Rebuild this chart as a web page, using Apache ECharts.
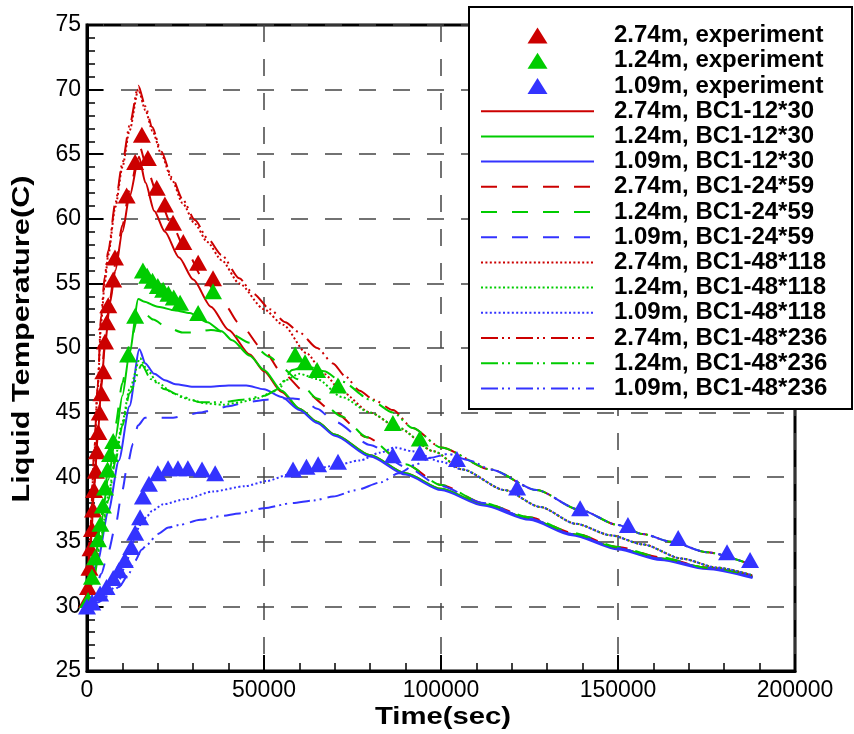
<!DOCTYPE html>
<html>
<head>
<meta charset="utf-8">
<script src="https://cdn.jsdelivr.net/npm/echarts@6/dist/echarts.min.js"></script>
<style>
html,body{margin:0;padding:0;background:#fff;}
#chart{width:854px;height:734px;}
</style>
</head>
<body>
<div id="chart"></div>
<script>
// ---------- data ----------
const xTickValues = [0, 50000, 100000, 150000, 200000];
const yTickValues = [25, 30, 35, 40, 45, 50, 55, 60, 65, 70, 75];

// experiment points [time, temperature]
const exp274 = [[0,30.5],[300,31.5],[700,33],[1000,34.5],[1400,36],[1700,37.5],[2000,39],[2500,40.5],[2800,42],[3200,43.5],[3600,45],[4100,46.5],[4600,48.2],[5100,50.5],[5600,52],[6000,53.3],[7400,55.3],[7900,57],[11200,61.8],[13600,64.4],[15500,66.5],[17200,64.7],[19700,62.4],[22000,61.1],[24300,59.7],[27200,58.2],[31400,56.6],[35600,55.4]];
const exp124 = [[300,30.5],[1400,32.3],[2300,33.8],[3100,35.2],[3800,36.4],[4500,37.8],[5100,39.2],[5800,40.6],[6500,41.8],[7400,42.8],[11600,49.5],[13600,52.5],[15800,56.0],[17000,55.6],[18500,55.2],[20000,54.8],[21500,54.5],[23000,54.2],[24500,53.9],[26300,53.5],[31400,52.7],[35600,54.4],[58800,49.5],[61600,48.9],[65000,48.3],[70900,47.1],[86400,44.2],[94000,43.0]];
const exp109 = [[0,30.0],[1500,30.3],[3700,31.0],[5500,31.5],[7400,32.2],[9000,32.8],[10700,33.6],[12500,34.6],[13600,35.7],[15000,36.9],[15800,38.5],[17500,39.5],[20000,40.3],[22900,40.7],[25700,40.7],[28500,40.7],[32500,40.6],[36200,40.3],[58200,40.6],[62000,40.8],[65300,41.0],[70900,41.2],[86400,41.7],[94000,41.9],[104500,41.4],[121500,39.2],[139300,37.6],[152800,36.3],[167000,35.3],[180800,34.2],[187300,33.6]];

// BC1-12*30
const r12x30 = [[0,30],[1000,34.5],[2000,39],[3000,43],[4000,46.8],[5000,50],[6500,53.5],[8000,56],[10000,59],[12000,61.7],[14700,64.8],[16500,62.8],[19000,60.6],[22000,59],[26000,57],[30000,55.3],[35000,53.2],[40000,51.4],[46000,49.5],[50000,48.2],[55000,46.6],[60000,45.3],[65000,44.3],[70000,43.3],[80000,41.7],[90000,40.3],[100000,39.1],[112000,37.9],[125000,36.8],[137000,35.6],[150000,34.5],[162000,33.7],[175000,33.0],[188000,32.3]];
const g12x30 = [[0,30],[2000,33.2],[4000,36.5],[6000,39.8],[8000,43],[10000,46.3],[12000,49.6],[14500,53.8],[16000,53.6],[20000,53.2],[25000,52.9],[29000,52.7],[34000,52.0],[38000,51.3],[41000,50.6],[46000,49.4],[50000,48.3],[55000,46.7],[60000,45.3],[65000,44.3],[70000,43.3],[80000,41.7],[90000,40.3],[100000,39.1],[112000,37.9],[125000,36.8],[137000,35.6],[150000,34.5],[162000,33.7],[175000,33.0],[188000,32.3]];
const b12x30 = [[0,30],[3000,33.5],[6000,37.3],[9000,41.3],[12000,45.5],[14800,49.9],[16500,48.8],[19000,48.0],[22000,47.5],[25000,47.2],[30000,47.0],[35000,47.0],[40000,47.1],[45000,47.1],[50000,46.8],[55000,46.2],[60000,45.2],[65000,44.2],[70000,43.2],[80000,41.6],[90000,40.2],[100000,39.0],[112000,37.8],[125000,36.7],[137000,35.5],[150000,34.4],[162000,33.6],[175000,32.9],[188000,32.2]];

// BC1-24*59
const r24x59 = [[0,30],[1000,35],[2000,39.5],[3000,43.5],[4000,47.3],[5000,50.3],[6500,53.8],[8000,56.5],[10000,59.5],[12000,62.2],[15000,65.5],[17000,63.8],[20000,61.8],[24000,59.5],[28000,57.5],[33000,55.3],[39000,53.3],[43000,51.9],[50000,49.8],[55000,48.1],[62000,46.5],[70000,45.0],[79000,43.1],[90000,41.0],[100000,39.4],[112000,38.0],[125000,36.9],[137000,35.7],[150000,34.6],[162000,33.8],[175000,33.0],[188000,32.4]];
const g24x59 = [[0,30],[2000,33.5],[4000,37],[6000,40.5],[8000,44],[10000,47.3],[12000,50.2],[14800,52.8],[16500,52.6],[18700,52.2],[22600,51.6],[27000,51.2],[30000,51.2],[35000,51.4],[40000,51.2],[46000,50.4],[51700,49.3],[55400,48.4],[59300,47.6],[65000,46.1],[72000,44.7],[79000,43.1],[90000,41.0],[100000,39.4],[112000,38.0],[125000,36.9],[137000,35.7],[150000,34.6],[162000,33.8],[175000,33.0],[188000,32.4]];
const b24x59 = [[0,30],[2000,31],[4000,32.5],[6000,34.2],[8000,36.2],[10000,39],[11300,40.8],[13000,42.6],[14400,44.0],[16400,44.6],[20000,44.6],[24300,44.6],[28000,44.8],[32000,45.0],[35600,45.2],[40000,45.5],[45000,45.8],[50800,46.0],[55000,46.1],[58200,46.1],[61000,46.0],[65000,45.3],[70000,44.3],[80000,42.5],[90000,40.8],[100000,39.3],[112000,38.0],[125000,36.8],[137000,35.6],[150000,34.5],[162000,33.7],[175000,33.0],[188000,32.3]];

// BC1-48*118
const r48x118 = [[0,30],[1000,36],[2000,41.5],[3000,46.8],[4000,52],[5000,55],[6000,57.2],[8000,60.9],[10000,64],[12000,66.8],[14500,70.0],[16500,68.4],[18500,66.8],[21000,65],[24000,63.0],[27000,61.2],[30500,59.6],[34000,58.2],[38000,56.8],[43000,55.0],[50000,53.0],[55400,51.8],[62000,49.6],[67000,48.0],[72000,46.6],[80000,45.0],[88000,43.8],[98000,42.0],[106000,40.6],[118000,39.0],[128000,37.7],[138000,36.4],[148000,35.5],[157000,34.8],[168000,33.7],[178000,33.0],[188000,32.4]];
const g48x118 = [[0,30],[2000,32.5],[4000,35.5],[6000,38.5],[8000,41.5],[10000,44.3],[12000,46.8],[15000,49.2],[17000,48.3],[20000,47.3],[24400,46.5],[29000,46.0],[33900,45.7],[38500,45.6],[43200,45.8],[48000,46.1],[52500,46.6],[56000,47.5],[60000,48.0],[65000,47.6],[72000,46.2],[80000,45.0],[87600,43.9],[98000,42.0],[106000,40.6],[118000,39.0],[128000,37.7],[138000,36.4],[148000,35.5],[157000,34.8],[168000,33.7],[178000,33.0],[188000,32.4]];
const b48x118 = [[0,30],[3000,30.4],[6000,31],[9000,32],[11000,33.3],[13000,35],[15000,36.3],[17000,37.0],[18400,37.4],[21500,37.9],[27700,38.3],[35600,38.9],[44600,39.3],[50800,39.7],[57000,40.2],[63800,40.6],[70000,40.9],[77100,41.3],[82800,41.9],[87000,42.3],[92000,42.0],[100000,41.2],[106000,40.6],[118000,39.0],[128000,37.7],[138000,36.4],[148000,35.5],[157000,34.8],[168000,33.7],[178000,33.0],[188000,32.4]];

// BC1-48*236
const r48x236 = [[0,30],[1000,36.3],[2000,41.8],[3000,47],[4000,52.5],[5000,55.5],[6000,57.5],[8000,61.2],[10000,64.3],[12000,67.2],[14500,70.3],[16500,68.7],[18400,67.1],[21000,65.2],[24000,63.2],[27000,61.5],[30500,59.9],[34000,58.5],[38000,57.2],[43000,55.4],[47000,54.2],[51700,53.0],[56000,52.0],[60000,51.2],[65000,50.0],[69500,48.8],[73000,47.8],[77000,46.7],[81000,46.0],[86400,45.2],[92000,43.8],[100000,42.3],[114000,40.6],[127000,39.0],[139000,37.5],[150000,36.3],[157000,35.6],[165000,35.0],[175000,34.2],[188000,33.2]];
const g48x236 = [[0,30],[2000,32.3],[4000,35.2],[6000,38.2],[8000,41.2],[10000,44],[12000,46.5],[15500,48.7],[18000,47.6],[22000,46.8],[27000,46.2],[32000,45.8],[38000,45.8],[44000,46.0],[50000,46.3],[54000,46.8],[58000,48.3],[62000,48.6],[67000,48.2],[72000,47.4],[80000,46.0],[86400,45.0],[92000,43.8],[100000,42.3],[114000,40.6],[127000,39.0],[139000,37.5],[150000,36.3],[157000,35.6],[165000,35.0],[175000,34.2],[188000,33.2]];
const b48x236 = [[0,30],[3000,30.3],[6000,30.8],[9000,31.5],[11600,32.4],[13500,33.5],[15500,34.4],[17000,34.8],[20000,35.6],[23000,36.1],[26000,36.3],[32000,36.7],[38000,37.0],[43000,37.2],[50000,37.6],[58000,38.0],[64000,38.2],[69500,38.5],[76000,39.0],[83000,39.6],[88000,40.3],[93000,41.0],[97000,41.5],[102000,41.8],[108000,41.3],[114000,40.6],[127000,39.0],[139000,37.5],[150000,36.3],[157000,35.6],[165000,35.0],[175000,34.2],[188000,33.2]];

// ---------- styles ----------
const RED = '#cc0000', GREEN = '#00cc00', BLUE = '#3333ff';
const SOLID = 'solid', DASHED = [16, 15], DOTTED = [2, 2.4], DASHDOT = [17, 4, 2, 4, 2, 6];
const LEGEND_TRIANGLE = 'path://M0,16L10,0L20,16Z';

function expSeries(name, data, color) {
  return { name, type: 'scatter', data, symbol: 'triangle', symbolSize: [18, 16],
    itemStyle: { color, opacity: 1 }, z: 5, silent: true };
}
function lineSeries(name, data, color, dash) {
  return { name, type: 'line', data, symbol: 'none', smooth: 0.25, smoothMonotone: 'x',
    lineStyle: { color, width: 2, type: dash }, itemStyle: { color }, z: 3, silent: true };
}

const series = [
  expSeries('2.74m, experiment', exp274, RED),
  expSeries('1.24m, experiment', exp124, GREEN),
  expSeries('1.09m, experiment', exp109, BLUE),
  lineSeries('2.74m, BC1-12*30', r12x30, RED, SOLID),
  lineSeries('1.24m, BC1-12*30', g12x30, GREEN, SOLID),
  lineSeries('1.09m, BC1-12*30', b12x30, BLUE, SOLID),
  lineSeries('2.74m, BC1-24*59', r24x59, RED, DASHED),
  lineSeries('1.24m, BC1-24*59', g24x59, GREEN, DASHED),
  lineSeries('1.09m, BC1-24*59', b24x59, BLUE, DASHED),
  lineSeries('2.74m, BC1-48*118', r48x118, RED, DOTTED),
  lineSeries('1.24m, BC1-48*118', g48x118, GREEN, DOTTED),
  lineSeries('1.09m, BC1-48*118', b48x118, BLUE, DOTTED),
  lineSeries('2.74m, BC1-48*236', r48x236, RED, DASHDOT),
  lineSeries('1.24m, BC1-48*236', g48x236, GREEN, DASHDOT),
  lineSeries('1.09m, BC1-48*236', b48x236, BLUE, DASHDOT)
];

const FONT = 'Liberation Sans, Arial, sans-serif';
const gridLine = { show: true, lineStyle: { color: '#444', width: 1.5, type: [17, 17] } };

const legendData = series.map(s => s.type === 'scatter'
  ? { name: s.name, icon: LEGEND_TRIANGLE, itemStyle: { opacity: 1 } }
  : { name: s.name, itemStyle: { opacity: 0, color: 'rgba(0,0,0,0)', borderWidth: 0 } });

const chart = echarts.init(document.getElementById('chart'), null, { renderer: 'canvas' });
chart.setOption({
  animation: false,
  backgroundColor: '#fff',
  grid: { left: 87, right: 59, top: 25, bottom: 63, show: true, borderColor: '#000', borderWidth: 3, containLabel: false },
  xAxis: {
    type: 'value', min: xTickValues[0], max: xTickValues[xTickValues.length - 1], interval: 50000,
    axisLine: { show: true, lineStyle: { color: '#000', width: 3 } },
    axisTick: { show: true, inside: true, length: 16, lineStyle: { color: '#000', width: 2 } },
    minorTick: { show: true, splitNumber: 5, length: 8, lineStyle: { color: '#000', width: 1.5 } },
    splitLine: gridLine,
    axisLabel: { color: '#000', fontSize: 23, fontFamily: FONT, margin: 8, formatter: v => String(v) }
  },
  yAxis: {
    type: 'value', min: yTickValues[0], max: yTickValues[yTickValues.length - 1], interval: 5,
    axisLine: { show: true, lineStyle: { color: '#000', width: 3 } },
    axisTick: { show: true, inside: true, length: 16, lineStyle: { color: '#000', width: 2 } },
    minorTick: { show: true, splitNumber: 5, length: 8, lineStyle: { color: '#000', width: 1.5 } },
    splitLine: gridLine,
    axisLabel: { color: '#000', fontSize: 23, fontFamily: FONT, margin: 6, formatter: v => String(v) }
  },
  legend: {
    show: true, orient: 'vertical', left: 480, top: 23, padding: 0, z: 20,
    itemWidth: 113, itemHeight: 16, itemGap: 0, selectedMode: false, symbolKeepAspect: true,
    textStyle: { fontSize: 24, fontWeight: 'bold', fontFamily: FONT, color: '#000', lineHeight: 25.2, padding: [0, 0, 0, 15] },
    data: legendData
  },
  graphic: [
    { type: 'rect', z: 10, shape: { x: 469, y: 7, width: 383, height: 402 },
      style: { fill: '#fff', stroke: '#000', lineWidth: 2 } },
    { type: 'text', z: 10, x: 443, y: 717, scaleX: 1.22,
      style: { text: 'Time(sec)', fontSize: 24, fontWeight: 'bold', fontFamily: FONT, fill: '#000', align: 'center', verticalAlign: 'middle' } },
    { type: 'text', z: 10, x: 22, y: 339, rotation: Math.PI / 2, scaleX: 1.28,
      style: { text: 'Liquid Temperature(C)', fontSize: 24, fontWeight: 'bold', fontFamily: FONT, fill: '#000', align: 'center', verticalAlign: 'middle' } }
  ],
  series
});
</script>
</body>
</html>
